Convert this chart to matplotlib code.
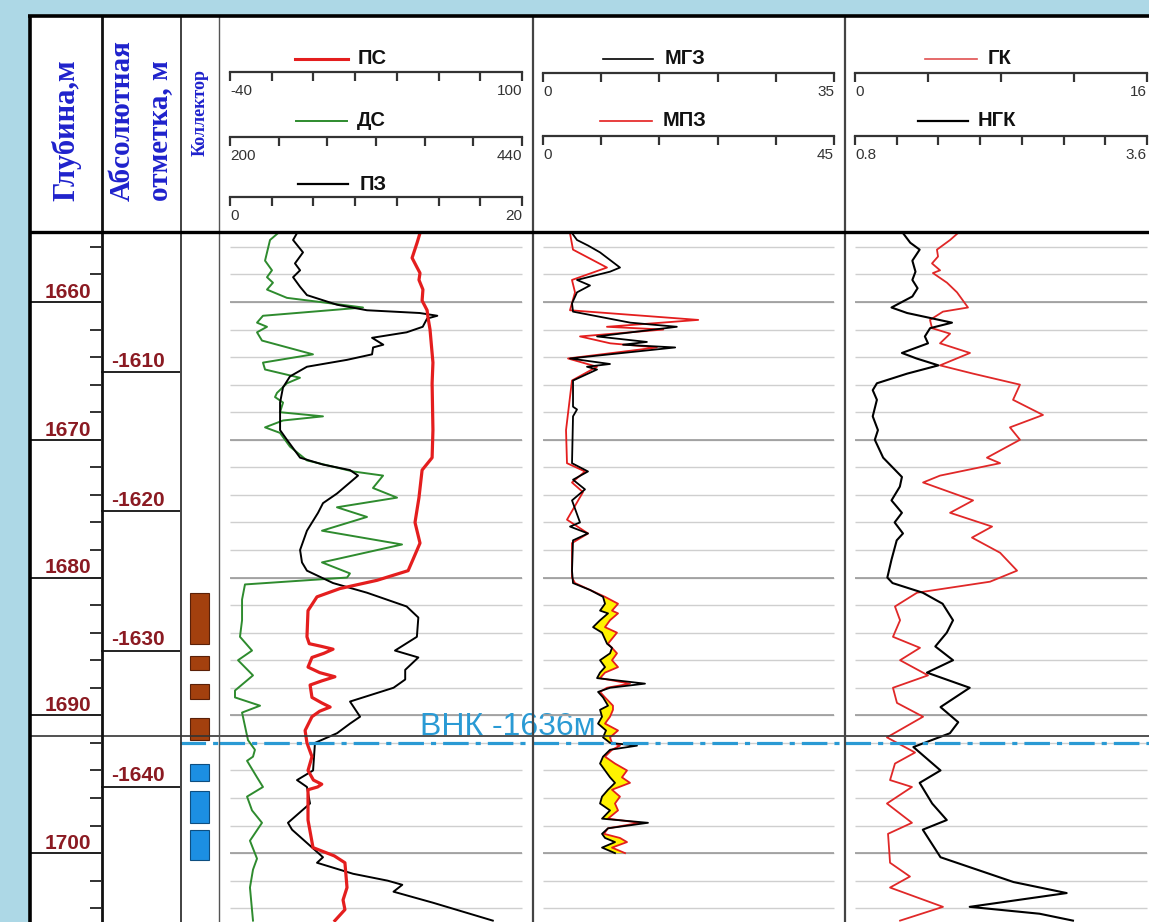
import numpy as np
import matplotlib
matplotlib.use("Agg")
import matplotlib.pyplot as plt
from matplotlib.patches import Rectangle

plt.rcParams['font.family'] = ['Liberation Sans', 'DejaVu Sans']

# ---------------- data ----------------
# ПС, mV  (scale -40 .. 100)
ps_depth = [1655.0, 1655.7, 1656.8, 1657.5, 1657.9, 1658.4, 1659.1, 1659.9, 1660.6, 1661.1,
            1662.0, 1664.4, 1665.9, 1669.3, 1671.3, 1672.2, 1674.2, 1676.0, 1677.5, 1678.7,
            1679.5, 1680.2, 1680.8, 1681.4, 1682.4, 1684.3, 1684.8, 1685.0, 1685.2, 1685.5,
            1685.8, 1686.5, 1686.9, 1687.2, 1687.5, 1687.8, 1688.7, 1689.1, 1689.4, 1689.7,
            1690.1, 1691.1, 1692.0, 1693.0, 1694.0, 1694.7, 1695.0, 1695.2, 1695.4, 1697.6,
            1699.6, 1700.2, 1700.7, 1702.5, 1703.4, 1704.1, 1704.9]
ps_val = [51.1, 49.7, 47.3, 49.7, 51.1, 50.6, 52.5, 52.1, 54.5, 54.9,
          55.9, 57.3, 56.9, 57.3, 56.9, 52.1, 50.6, 48.7, 51.1, 47.7,
          45.4, 30.5, 12.7, 1.7, -2.6, -3.1, -2.0, 4.0, 9.4, 5.0,
          -0.7, -2.6, 3.0, 10.3, 4.0, -1.6, -0.7, 4.0, 8.0, 3.0,
          -0.7, -4.0, -3.1, -0.7, -2.6, 0.0, 4.0, 2.0, -2.6, -2.6,
          -0.2, 10.0, 15.1, 16.1, 14.2, 15.1, 10.3]

# ДС, mm (scale 200 .. 440)
ds_depth = [1655.0, 1655.5, 1657.0, 1657.7, 1658.2, 1658.6, 1659.1, 1659.7, 1660.0, 1660.4,
            1661.0, 1661.5, 1661.8, 1662.2, 1662.8, 1663.8, 1664.4, 1664.9, 1665.5, 1665.9,
            1666.6, 1666.9, 1667.3, 1668.0, 1668.3, 1668.6, 1669.1, 1669.5, 1670.5, 1671.5,
            1672.3, 1672.6, 1673.5, 1674.2, 1674.9, 1675.6, 1676.6, 1677.6, 1678.9, 1679.7,
            1680.0, 1680.5, 1681.6, 1683.1, 1684.3, 1685.3, 1686.0, 1687.1, 1688.2, 1688.7,
            1689.3, 1689.8, 1691.8, 1692.5, 1693.0, 1693.3, 1694.5, 1695.2, 1695.9, 1696.9,
            1697.8, 1699.1, 1700.4, 1701.2, 1702.5, 1704.9]
ds_val = [239.5, 232.9, 228.8, 234.5, 230.4, 235.3, 230.4, 246.8, 274.0, 309.3,
          227.1, 222.2, 230.4, 222.2, 226.3, 268.2, 227.1, 228.8, 257.5, 246.8,
          238.6, 237.0, 243.6, 241.1, 276.4, 243.6, 228.8, 241.1, 249.3, 263.3,
          301.1, 325.8, 317.5, 337.3, 287.9, 312.6, 275.6, 341.4, 275.6, 298.6,
          296.2, 212.3, 209.9, 209.9, 208.2, 218.1, 206.6, 218.9, 204.1, 204.1,
          224.7, 209.9, 214.8, 220.5, 218.9, 214.0, 222.2, 227.1, 214.0, 218.1,
          226.3, 216.4, 222.2, 218.9, 216.4, 218.9]

# ПЗ, Ohm*m (scale 0 .. 20)
pz_depth = [1655.0, 1655.5, 1656.4, 1657.2, 1657.7, 1658.2, 1658.9, 1659.5, 1660.2, 1660.6,
            1660.8, 1661.0, 1661.2, 1661.8, 1662.2, 1662.6, 1663.1, 1663.3, 1663.8, 1664.2,
            1664.7, 1665.4, 1666.2, 1667.3, 1669.3, 1670.0, 1671.3, 1671.8, 1672.2, 1672.6,
            1673.9, 1674.6, 1675.3, 1676.6, 1678.0, 1678.9, 1679.5, 1680.4, 1681.1, 1682.1,
            1682.9, 1684.3, 1685.3, 1685.8, 1686.7, 1687.4, 1688.0, 1689.0, 1690.1, 1690.6,
            1691.3, 1692.0, 1694.0, 1694.7, 1695.2, 1696.4, 1697.8, 1698.3, 1700.3, 1700.7,
            1701.5, 1702.0, 1702.3, 1702.8, 1703.6, 1704.9]
pz_val = [4.59, 4.32, 5.0, 4.45, 4.80, 4.32, 4.80, 5.27, 7.33, 9.38,
          13.0, 14.2, 13.5, 13.2, 12.1, 9.73, 10.5, 9.80, 9.73, 8.01,
          5.27, 4.11, 3.63, 3.43, 3.43, 3.90, 4.80, 6.37, 8.22, 8.77,
          7.33, 6.37, 6.03, 5.27, 4.80, 4.93, 5.27, 7.06, 9.38, 12.1,
          12.9, 12.8, 11.3, 12.9, 12.0, 12.0, 11.2, 8.22, 8.91, 8.22,
          7.33, 5.82, 5.69, 4.59, 5.27, 5.48, 3.97, 4.25, 6.37, 5.96,
          8.43, 10.8, 11.8, 11.2, 13.9, 18.0]

# МГЗ (0 .. 35) and МПЗ (0 .. 45), upper part
mgz_depth_up = [1655.0, 1655.5, 1655.9, 1656.4, 1657.5, 1657.8, 1658.4, 1658.8, 1659.3, 1660.1,
                1660.7, 1661.5, 1661.8, 1662.5, 1662.9, 1663.1, 1663.3, 1664.1, 1664.5, 1664.7,
                1664.9, 1665.7, 1667.6, 1667.8, 1668.3, 1671.7, 1672.3, 1672.9, 1673.6, 1674.4,
                1676.0, 1676.3, 1676.8, 1677.3, 1679.5]
mgz_up = [3.49, 4.09, 5.41, 6.86, 9.26, 8.06, 4.09, 5.65, 4.09, 3.49,
          3.61, 10.5, 16.1, 6.50, 12.5, 9.62, 15.9, 3.25, 8.06, 5.29,
          6.50, 3.61, 3.61, 4.09, 3.61, 3.49, 5.41, 3.61, 5.05, 3.49,
          4.45, 3.25, 5.41, 3.61, 3.49]
mpz_depth_up = [1655.0, 1656.2, 1657.5, 1658.4, 1659.3, 1660.6, 1661.3, 1661.8, 1662.0, 1662.5,
                1663.0, 1663.3, 1664.1, 1664.7, 1665.7, 1669.3, 1671.7, 1672.3, 1673.1, 1673.8,
                1675.8, 1676.8, 1677.5, 1680.0]
mpz_up = [4.17, 4.64, 9.89, 4.48, 4.95, 4.17, 24.0, 9.89, 18.6, 5.72,
          10.4, 17.6, 3.87, 8.35, 4.48, 3.56, 3.71, 6.49, 4.48, 6.18,
          3.71, 6.96, 4.48, 4.48]

# lower (reservoir) part, common depths for the yellow separation fill
micro_depth_low = [1680.4, 1680.9, 1681.4, 1681.9, 1682.4, 1682.6, 1683.1, 1683.6, 1684.0, 1684.8,
                   1685.1, 1685.5, 1686.0, 1686.5, 1686.9, 1687.3, 1687.7, 1688.0, 1688.3, 1688.7,
                   1689.3, 1689.6, 1690.1, 1690.6, 1691.1, 1691.6, 1692.0, 1692.2, 1692.5, 1693.0,
                   1693.5, 1694.0, 1694.5, 1694.9, 1695.4, 1695.9, 1696.4, 1696.9, 1697.5, 1697.8,
                   1698.2, 1698.6, 1698.9, 1699.2, 1699.6, 1700.0]
mgz_low = [3.61, 5.65, 7.22, 7.46, 6.86, 7.82, 6.86, 6.02, 7.10, 7.70,
           8.30, 8.06, 6.86, 7.46, 6.86, 6.50, 12.27, 8.06, 6.62, 7.22,
           7.82, 6.86, 7.10, 6.62, 7.58, 7.22, 8.06, 11.31, 8.06, 7.22,
           6.86, 7.46, 8.06, 8.66, 7.82, 7.10, 6.86, 8.06, 7.10, 12.63,
           7.82, 7.10, 7.46, 8.66, 7.10, 8.66]
mpz_low = [4.95, 7.27, 9.59, 11.6, 10.67, 11.6, 10.36, 9.59, 11.44, 10.05,
           10.67, 11.44, 10.67, 11.6, 9.59, 8.81, 13.45, 9.89, 8.81, 9.59,
           10.82, 10.82, 10.36, 9.59, 11.6, 10.36, 10.67, 11.9, 10.67, 9.59,
           11.13, 12.99, 12.21, 13.45, 10.67, 11.9, 11.13, 11.6, 10.05, 15.0,
           10.05, 9.43, 11.9, 12.99, 10.67, 12.68]

# ГК (0 .. 16)
gk_depth = [1655.0, 1655.5, 1656.2, 1656.7, 1657.2, 1657.7, 1657.9, 1658.6, 1659.3, 1660.4,
            1660.7, 1661.3, 1661.9, 1662.3, 1663.0, 1663.7, 1664.6, 1665.2, 1666.0, 1667.1,
            1668.2, 1669.1, 1670.0, 1671.3, 1671.7, 1672.6, 1673.1, 1674.4, 1675.3, 1676.3,
            1677.1, 1678.2, 1679.5, 1680.3, 1681.1, 1682.1, 1683.1, 1684.3, 1685.1, 1686.0,
            1687.1, 1688.0, 1689.1, 1690.1, 1691.6, 1692.7, 1693.5, 1694.7, 1695.2, 1696.4,
            1697.8, 1698.6, 1700.7, 1701.7, 1702.5, 1703.9, 1704.9]
gk_val = [5.64, 5.21, 4.49, 4.55, 4.22, 4.66, 4.27, 5.04, 5.59, 6.19,
          4.82, 4.11, 4.22, 5.21, 4.66, 6.30, 4.66, 6.47, 9.04, 8.66,
          10.3, 8.49, 9.04, 7.23, 7.95, 4.66, 3.73, 6.47, 5.21, 7.51,
          6.41, 7.95, 8.88, 7.40, 3.40, 2.19, 2.47, 2.08, 3.56, 2.47,
          4.00, 2.08, 2.30, 3.73, 1.75, 3.29, 2.19, 1.92, 3.12, 1.75,
          3.12, 1.81, 1.92, 3.01, 1.92, 4.82, 2.47]

# НГК (0.8 .. 3.6)
ngk_depth = [1655.0, 1655.7, 1656.2, 1657.0, 1657.8, 1658.4, 1659.0, 1659.6, 1660.4, 1660.8,
             1661.5, 1661.9, 1662.5, 1663.0, 1663.7, 1664.1, 1664.6, 1665.2, 1665.9, 1666.4,
             1667.1, 1668.3, 1669.3, 1670.0, 1671.3, 1672.7, 1673.4, 1674.4, 1675.3, 1676.0,
             1676.8, 1677.3, 1678.7, 1680.0, 1680.4, 1681.1, 1681.9, 1683.1, 1684.0, 1685.0,
             1686.0, 1686.9, 1688.0, 1689.4, 1690.5, 1691.3, 1692.3, 1694.0, 1694.9, 1696.4,
             1697.6, 1698.3, 1700.3, 1702.1, 1702.9, 1703.9, 1704.4, 1704.9]
ngk_val = [1.26, 1.33, 1.42, 1.35, 1.38, 1.35, 1.40, 1.35, 1.15, 1.30,
           1.73, 1.52, 1.47, 1.50, 1.25, 1.39, 1.60, 1.30, 1.01, 0.97,
           1.01, 0.97, 1.02, 0.99, 1.07, 1.25, 1.23, 1.15, 1.25, 1.18,
           1.26, 1.20, 1.15, 1.11, 1.16, 1.45, 1.64, 1.74, 1.68, 1.57,
           1.74, 1.49, 1.90, 1.62, 1.79, 1.71, 1.36, 1.62, 1.42, 1.54,
           1.68, 1.45, 1.62, 2.32, 2.83, 1.90, 2.57, 2.89]

# Коллектор: (top, bottom) intervals
oil_top = [1681.1, 1685.7, 1687.7, 1690.2]
oil_bot = [1684.8, 1686.7, 1688.8, 1691.8]
water_top = [1693.5, 1695.5, 1698.3]
water_bot = [1694.8, 1697.8, 1700.5]

depth_marks = [1660, 1670, 1680, 1690, 1700]
abs_marks = [-1610, -1620, -1630, -1640]
abs_depths = [1665.1, 1675.2, 1685.3, 1695.2]
contact_depth = 1691.5
vnk_depth = 1692.0
vnk_label = 'ВНК -1636м'

TOP, BOT = 1654.92, 1705.0
W, H = 1149, 922

RED = '#E41E1E'
GREEN = '#2E8B2E'
DRED = '#8B1A22'
HBLUE = '#1F22CC'
VNK_C = '#2A9AD4'

fig = plt.figure(figsize=(W / 100, H / 100), dpi=100)
fig.patch.set_facecolor('#ADD8E6')

bg = fig.add_axes([0, 0, 1, 1], zorder=0)
bg.set_xlim(0, W)
bg.set_ylim(H, 0)
bg.axis('off')
bg.add_patch(Rectangle((29, 16), W - 29, H - 16, facecolor='white', edgecolor='none'))


def add_ax(x0, x1, y0, y1, z=2):
    ax = fig.add_axes([x0 / W, 1 - y1 / H, (x1 - x0) / W, (y1 - y0) / H], zorder=z)
    ax.axis('off')
    return ax


def norm(v, lo, hi):
    return (np.asarray(v, dtype=float) - lo) / (hi - lo)


def track_xlim(x0, x1, s0, s1):
    return ((x0 - s0) / (s1 - s0), (x1 - s0) / (s1 - s0))


# ---- body columns ----
ax_d = add_ax(31, 101, 232, 922)
ax_a = add_ax(101, 180, 232, 922)
ax_c = add_ax(180, 219, 232, 922)
t1 = add_ax(219, 533, 232, 922)
t2 = add_ax(533, 845, 232, 922)
t3 = add_ax(845, 1149, 232, 922)
lims = {t1: track_xlim(219, 533, 230, 522),
        t2: track_xlim(533, 845, 543, 834),
        t3: track_xlim(845, 1149, 855, 1147)}
for ax in [ax_d, ax_a, ax_c, t1, t2, t3]:
    ax.set_ylim(BOT, TOP)
    ax.set_xlim(lims.get(ax, (0, 1)))

# depth column
small = np.arange(1656, 1705, 2)
ax_d.hlines(small, 0.843, 1.0, color='#222222', lw=1.3)
ax_d.hlines(depth_marks, 0, 1, color='#222222', lw=1.4)
for d in depth_marks:
    ax_d.text(0.86, d - 0.3, str(d), ha='right', va='baseline', color=DRED,
              fontsize=15, fontweight='bold')

# absolute marks column
ax_a.hlines(abs_depths, 0, 1, color='#222222', lw=1.4)
for a, d in zip(abs_marks, abs_depths):
    ax_a.text(0.13, d - 0.4, str(a), ha='left', va='baseline', color=DRED,
              fontsize=15, fontweight='bold')

# collector bars
ax_c.bar(0.5, np.subtract(oil_bot, oil_top), bottom=oil_top, width=0.47,
         color='#A3400E', edgecolor='#5A2008', lw=0.8)
ax_c.bar(0.5, np.subtract(water_bot, water_top), bottom=water_top, width=0.47,
         color='#1C8FE3', edgecolor='#0E4E80', lw=0.8)

# grid lines in log tracks
for ax in [t1, t2, t3]:
    ax.hlines(small, 0, 1, color='#CFCFCF', lw=1.0, zorder=1)
    ax.hlines(depth_marks, 0, 1, color='#9A9A9A', lw=1.2, zorder=1)

# track 1
t1.plot(norm(ds_val, 200, 440), ds_depth, color=GREEN, lw=1.4, zorder=3)
t1.plot(norm(pz_val, 0, 20), pz_depth, color='black', lw=1.4, zorder=4)
t1.plot(norm(ps_val, -40, 100), ps_depth, color=RED, lw=2.3, zorder=5)

# track 2
mgz_d = mgz_depth_up + micro_depth_low
mgz_all = mgz_up + mgz_low
mpz_d = mpz_depth_up + micro_depth_low
mpz_all = mpz_up + mpz_low
g_low = norm(mgz_low, 0, 35)
p_low = norm(mpz_low, 0, 45)
t2.fill_betweenx(micro_depth_low, g_low, p_low, where=p_low > g_low, interpolate=True,
                 color='#FFF200', lw=0, zorder=2)
t2.plot(norm(mpz_all, 0, 45), mpz_d, color=RED, lw=1.3, zorder=3)
t2.plot(norm(mgz_all, 0, 35), mgz_d, color='black', lw=1.3, zorder=4)

# track 3
t3.plot(norm(gk_val, 0, 16), gk_depth, color='#E02828', lw=1.3, zorder=3)
t3.plot(norm(ngk_val, 0.8, 3.6), ngk_depth, color='black', lw=1.5, zorder=4)

# contact lines
for ax in [ax_d, ax_a, ax_c, t1, t2, t3]:
    ax.axhline(contact_depth, color='#333333', lw=1.2, zorder=6)
for ax in [ax_c, t1, t2, t3]:
    ax.axhline(vnk_depth, color=VNK_C, lw=2.3, ls=(0, (8, 2.2, 1.6, 2.2)), zorder=7)
t1.text(norm(420, 230, 522), contact_depth - 0.1, vnk_label, color=VNK_C, fontsize=23,
        ha='left', va='baseline', clip_on=False, zorder=8)

# ---- header ----
hd = add_ax(31, 101, 16, 232)
ha_ = add_ax(101, 180, 16, 232)
hc = add_ax(180, 219, 16, 232)
h1 = add_ax(219, 533, 16, 232)
h2 = add_ax(533, 845, 16, 232)
h3 = add_ax(845, 1149, 16, 232)
for ax in [hd, ha_, hc]:
    ax.set_xlim(0, 1)
    ax.set_ylim(232, 16)
for ax, tr in [(h1, t1), (h2, t2), (h3, t3)]:
    ax.set_xlim(lims[tr])
    ax.set_ylim(232, 16)

serif = ['Liberation Serif', 'DejaVu Serif']
hd.text(0.5, 201, 'Глубина,м', rotation=90, ha='center', va='bottom', color=HBLUE,
        fontsize=22, fontweight='bold', family=serif)
ha_.text(0.27, 201, 'Абсолютная', rotation=90, ha='center', va='bottom', color=HBLUE,
         fontsize=21, fontweight='bold', family=serif)
ha_.text(0.74, 201, 'отметка, м', rotation=90, ha='center', va='bottom', color=HBLUE,
         fontsize=21, fontweight='bold', family=serif)
hc.text(0.52, 156, 'Коллектор', rotation=90, ha='center', va='bottom', color=HBLUE,
        fontsize=13, fontweight='bold', family=serif)

# (axis, name, colour, lw, lo, hi, intervals, legend y, scale y, legend x0, x1, label x)
scales = [
    (h1, 'ПС', RED, 2.2, '-40', '100', 7, 59, 72, 0.223, 0.404, 0.438),
    (h1, 'ДС', GREEN, 1.4, '200', '440', 6, 121, 137, 0.226, 0.401, 0.435),
    (h1, 'ПЗ', 'black', 1.6, '0', '20', 7, 184, 197, 0.233, 0.404, 0.445),
    (h2, 'МГЗ', 'black', 1.2, '0', '35', 5, 59, 73, 0.206, 0.378, 0.419),
    (h2, 'МПЗ', RED, 1.2, '0', '45', 5, 121, 136, 0.196, 0.375, 0.412),
    (h3, 'ГК', '#E05050', 1.2, '0', '16', 4, 59, 73, 0.240, 0.418, 0.455),
    (h3, 'НГК', 'black', 1.6, '0.8', '3.6', 7, 121, 136, 0.216, 0.387, 0.421),
]
for ax, name, col, lw, lo, hi, n, ly, sy, lx0, lx1, tx in scales:
    ax.plot([lx0, lx1], [ly, ly], color=col, lw=lw)
    ax.text(tx, ly, name, ha='left', va='center', fontsize=14.5, fontweight='bold', color='#111111')
    ax.plot([0, 1], [sy, sy], color='#333333', lw=1.6)
    ax.vlines(np.linspace(0, 1, n + 1), sy, sy + 9, color='#333333', lw=1.6)
    ax.text(0, sy + 12, lo, ha='left', va='top', fontsize=11, color='#333333')
    ax.text(1, sy + 12, hi, ha='right', va='top', fontsize=11, color='#333333')

# ---- frame lines ----
fg = fig.add_axes([0, 0, 1, 1], zorder=10)
fg.set_xlim(0, W)
fg.set_ylim(H, 0)
fg.axis('off')
fg.vlines(29.5, 15, H, color='black', lw=2.6)
fg.vlines(101.5, 16, H, color='#111111', lw=2.0)
fg.vlines(180.5, 16, H, color='#333333', lw=1.3)
fg.vlines(219, 16, H, color='#555555', lw=1.0)
fg.vlines([533, 845], 16, H, color='#444444', lw=1.6)
fg.hlines(16.5, 28, W, color='black', lw=2.6)
fg.hlines(232, 29, W, color='black', lw=2.4)

fig.savefig('out.png', dpi=100, facecolor=fig.get_facecolor())
